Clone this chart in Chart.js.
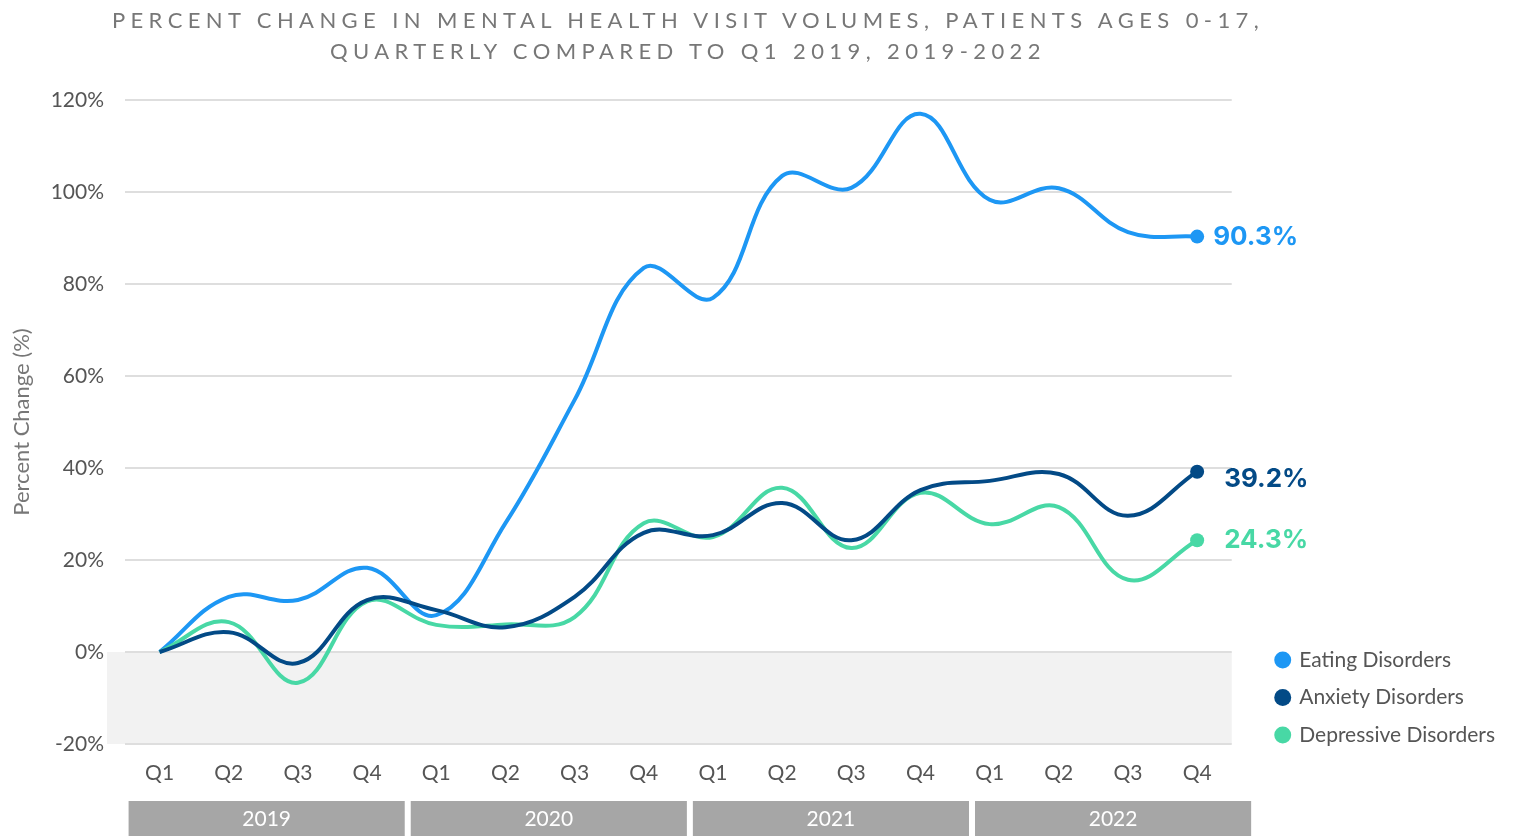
<!DOCTYPE html>
<html>
<head>
<meta charset="utf-8">
<title>Percent change in mental health visit volumes</title>
<script src="https://cdn.jsdelivr.net/npm/chart.js@4.4.1/dist/chart.umd.min.js"></script>
<style>
  html, body { margin: 0; padding: 0; background: #fff; }
  #wrap { position: relative; width: 1523px; height: 836px; }
  #title {
    position: absolute; left: 0; top: 4px; width: 1376px;
    text-align: center; font-family: Lato, sans-serif; font-size: 22px;
    line-height: 31px; letter-spacing: 5.4px; color: #777;
  }
</style>
</head>
<body>
<div id="wrap">
  <div id="title">PERCENT CHANGE IN MENTAL HEALTH VISIT VOLUMES, PATIENTS AGES 0-17,<br>QUARTERLY COMPARED TO Q1 2019, 2019-2022</div>
  <canvas id="chartVisits"></canvas>
</div>
<script>
var quarters = ['Q1', 'Q2', 'Q3', 'Q4', 'Q1', 'Q2', 'Q3', 'Q4',
                'Q1', 'Q2', 'Q3', 'Q4', 'Q1', 'Q2', 'Q3', 'Q4'];
var years = ['2019', '2020', '2021', '2022'];
var eating     = [0, 12, 11.3, 18.3, 8, 28, 54.8, 83.5, 77, 103.5, 100.9, 117, 98.3, 100.8, 91.3, 90.3];
var anxiety    = [0, 4.3, -2.4, 11.3, 9.1, 5.4, 12, 25.9, 25.4, 32.4, 24.3, 35.2, 37.2, 38.7, 29.6, 39.2];
var depressive = [0, 6.5, -6.7, 11, 5.9, 6, 7.6, 28, 25, 35.7, 22.6, 34.6, 27.8, 31.5, 15.7, 24.3];

var last = quarters.length - 1;

//fondo gris bajo cero
var shadeNegative = {
  id: 'shadeNegative',
  beforeDraw: function(chart) {
    var ctx = chart.ctx, area = chart.chartArea, y = chart.scales.y;
    ctx.save();
    ctx.fillStyle = '#f2f2f2';
    ctx.fillRect(area.left - 18, y.getPixelForValue(0), area.right - area.left + 18, y.getPixelForValue(-20) - y.getPixelForValue(0));
    ctx.restore();
  }
};

//bajar un poco la leyenda
var legendShift = {
  id: 'legendShift',
  afterLayout: function(chart) {
    chart.legend.top += 18;
    chart.legend.bottom += 18;
  }
};

//cajas de años
var yearBands = {
  id: 'yearBands',
  afterDraw: function(chart) {
    var ctx = chart.ctx, x = chart.scales.x, area = chart.chartArea;
    var x0 = x.getPixelForValue(0) - 31;
    var x1 = x.getPixelForValue(last) + 54;
    var gap = 6;
    var w = (x1 - x0 - gap * (years.length - 1)) / years.length;
    var top = area.bottom + 57;
    ctx.save();
    ctx.font = '21px Lato';
    ctx.textAlign = 'center';
    ctx.textBaseline = 'middle';
    for (var i = 0; i < years.length; i++) {
      var left = x0 + i * (w + gap);
      ctx.fillStyle = '#a6a6a6';
      ctx.fillRect(left, top, w, chart.height - top);
      ctx.fillStyle = '#ffffff';
      ctx.fillText(years[i], left + w / 2, top + (chart.height - top) / 2 + 1);
    }
    ctx.restore();
  }
};

//etiquetas al final
var endLabels = {
  id: 'endLabels',
  afterDatasetsDraw: function(chart, args, opts) {
    var ctx = chart.ctx;
    chart.data.datasets.forEach(function(ds, i) {
      var meta = chart.getDatasetMeta(i);
      var pt = meta.data[meta.data.length - 1];
      var shift = opts.shifts[i];
      ctx.save();
      ctx.font = '700 26px Inter';
      ctx.fillStyle = ds.borderColor;
      ctx.textBaseline = 'middle';
      ctx.fillText(ds.data[ds.data.length - 1].toFixed(1) + '%', pt.x + shift[0], pt.y + shift[1]);
      ctx.restore();
    });
  }
};

Chart.defaults.font.family = 'Lato, sans-serif';

var ctx = document.getElementById('chartVisits');
var chartVisits = new Chart(ctx, {
  type: 'line',
  data: {
    labels: quarters,
    datasets: [{
      label: 'Eating Disorders',
      data: eating,
      borderColor: '#1d97f4',
      backgroundColor: '#1d97f4',
      order: 3
    }, {
      label: 'Anxiety Disorders',
      data: anxiety,
      borderColor: '#034a86',
      backgroundColor: '#034a86',
      order: 1
    }, {
      label: 'Depressive Disorders',
      data: depressive,
      borderColor: '#48d8a5',
      backgroundColor: '#48d8a5',
      order: 2
    }]
  },
  options: {
    responsive: true,
    maintainAspectRatio: false,
    animation: false,
    layout: { padding: { left: 0, right: 18, top: 100, bottom: 0 } },
    elements: {
      line: { borderWidth: 4, tension: 0.4, fill: false },
      point: {
        radius: function(c) { return c.dataIndex === last ? 7 : 0; },
        hoverRadius: 7,
        borderWidth: 0
      }
    },
    scales: {
      x: {
        offset: true,
        grid: { display: false, drawTicks: false },
        border: { display: false },
        ticks: { color: '#555', font: { size: 21 }, padding: 17, autoSkip: false, maxRotation: 0 },
        afterFit: function(s) { s.height = 92; }
      },
      y: {
        min: -20,
        max: 120,
        ticks: {
          stepSize: 20,
          color: '#555',
          font: { size: 21 },
          padding: 21,
          callback: function(v) { return v + '%'; }
        },
        grid: { color: '#dedede', lineWidth: 2, drawTicks: false },
        border: { display: false },
        title: {
          display: true,
          text: 'Percent Change (%)',
          color: '#777',
          font: { size: 22 },
          padding: { top: 9, bottom: 0 }
        },
        afterFit: function(s) { s.width = 125; }
      },
      y2: {
        position: 'right',
        display: true,
        grid: { display: false, drawTicks: false },
        border: { display: false },
        ticks: { display: false },
        afterFit: function(s) { s.width = 28.5; }
      }
    },
    plugins: {
      title: { display: false },
      tooltip: { enabled: false },
      legend: {
        position: 'right',
        align: 'end',
        fullSize: false,
        labels: {
          usePointStyle: true,
          pointStyle: 'circle',
          boxWidth: 12,
          boxHeight: 12,
          padding: 16.5,
          color: '#555',
          font: { size: 21 },
          sort: function(a, b) { return a.datasetIndex - b.datasetIndex; },
          generateLabels: function(chart) {
            return Chart.defaults.plugins.legend.labels.generateLabels(chart).map(function(l) {
              l.lineWidth = 0;
              return l;
            });
          }
        }
      },
      endLabels: { shifts: [[16, 1], [27, 8], [27, 0]] }
    }
  },
  plugins: [shadeNegative, legendShift, yearBands, endLabels]
});
</script>
</body>
</html>
